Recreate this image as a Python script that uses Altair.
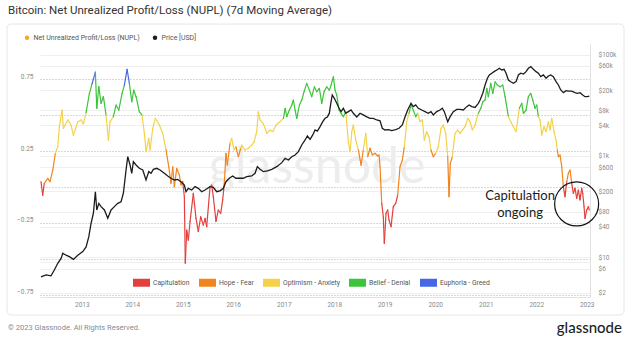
import altair as alt
import numpy as np
import pandas as pd

# ---------------- data ----------------
# NUPL (7d MA): dates as decimal years, values
nupl_years = [
    2012.194, 2012.228, 2012.259, 2012.327, 2012.372, 2012.426, 2012.477, 2012.525, 2012.556, 2012.610,
    2012.636, 2012.723, 2012.788, 2012.834, 2012.921, 2012.986, 2013.032, 2013.085, 2013.150, 2013.204,
    2013.269, 2013.297, 2013.337, 2013.382, 2013.428, 2013.481, 2013.527, 2013.560, 2013.626, 2013.679,
    2013.733, 2013.798, 2013.844, 2013.897, 2013.943, 2013.990, 2014.030, 2014.075, 2014.141, 2014.194,
    2014.240, 2014.273, 2014.327, 2014.352, 2014.406, 2014.457, 2014.537, 2014.604, 2014.669, 2014.723,
    2014.768, 2014.802, 2014.834, 2014.881, 2014.933, 2014.966, 2015.000, 2015.032, 2015.051, 2015.079,
    2015.111, 2015.145, 2015.210, 2015.263, 2015.309, 2015.356, 2015.408, 2015.442, 2015.475, 2015.541,
    2015.574, 2015.606, 2015.659, 2015.705, 2015.752, 2015.792, 2015.824, 2015.857, 2015.883, 2015.937,
    2015.970, 2016.016, 2016.055, 2016.101, 2016.149, 2016.168, 2016.234, 2016.299, 2016.366, 2016.412,
    2016.465, 2016.497, 2016.531, 2016.596, 2016.663, 2016.729, 2016.782, 2016.848, 2016.927, 2016.992,
    2017.026, 2017.059, 2017.111, 2017.158, 2017.190, 2017.224, 2017.257, 2017.309, 2017.356, 2017.402,
    2017.455, 2017.507, 2017.554, 2017.606, 2017.653, 2017.705, 2017.752, 2017.798, 2017.851, 2017.903,
    2017.937, 2017.982, 2018.016, 2018.050, 2018.095, 2018.135, 2018.180, 2018.228, 2018.279, 2018.313,
    2018.347, 2018.378, 2018.426, 2018.477, 2018.531, 2018.576, 2018.624, 2018.663, 2018.709, 2018.754,
    2018.808, 2018.861, 2018.887, 2018.907, 2018.941, 2018.972, 2018.992, 2019.026, 2019.059, 2019.085,
    2019.125, 2019.170, 2019.218, 2019.257, 2019.303, 2019.349, 2019.388, 2019.436, 2019.481, 2019.521,
    2019.566, 2019.614, 2019.653, 2019.699, 2019.745, 2019.784, 2019.832, 2019.877, 2019.917, 2019.962,
    2020.010, 2020.061, 2020.115, 2020.160, 2020.208, 2020.248, 2020.273, 2020.299, 2020.339, 2020.392,
    2020.446, 2020.491, 2020.537, 2020.590, 2020.644, 2020.689, 2020.735, 2020.788, 2020.822, 2020.853,
    2020.901, 2020.941, 2020.986, 2021.020, 2021.051, 2021.099, 2021.139, 2021.184, 2021.230, 2021.283,
    2021.337, 2021.382, 2021.448, 2021.495, 2021.547, 2021.600, 2021.665, 2021.713, 2021.745, 2021.798,
    2021.844, 2021.891, 2021.931, 2021.976, 2022.010, 2022.042, 2022.075, 2022.109, 2022.154, 2022.194,
    2022.240, 2022.273, 2022.307, 2022.352, 2022.392, 2022.418, 2022.438, 2022.471, 2022.505, 2022.537,
    2022.570, 2022.604, 2022.636, 2022.669, 2022.703, 2022.735, 2022.768, 2022.802, 2022.834, 2022.867,
    2022.901, 2022.921, 2022.947, 2022.966, 2023.000, 2023.032, 2023.051,
]
nupl_values = [
    0.037, -0.056, 0.026, 0.060, 0.037, 0.118, 0.235, 0.280, 0.420, 0.536,
    0.409, 0.467, 0.430, 0.360, 0.455, 0.467, 0.440, 0.520, 0.650, 0.720,
    0.800, 0.548, 0.700, 0.583, 0.629, 0.500, 0.327, 0.455, 0.490, 0.571,
    0.536, 0.652, 0.710, 0.820, 0.722, 0.594, 0.675, 0.629, 0.524, 0.500,
    0.374, 0.246, 0.339, 0.258, 0.409, 0.478, 0.432, 0.374, 0.258, 0.141,
    0.026, 0.141, 0.002, 0.130, 0.084, 0.014, 0.037, -0.067, -0.530, -0.300,
    -0.370, -0.240, -0.044, -0.218, -0.310, -0.207, -0.265, -0.218, -0.276, 0.002,
    0.014, -0.067, -0.240, -0.160, -0.183, -0.090, 0.026, 0.235, 0.153, 0.304,
    0.339, 0.258, 0.280, 0.211, 0.270, 0.292, 0.258, 0.270, 0.292, 0.315,
    0.385, 0.524, 0.467, 0.440, 0.374, 0.397, 0.385, 0.432, 0.455, 0.478,
    0.548, 0.490, 0.536, 0.571, 0.606, 0.536, 0.478, 0.571, 0.606, 0.664,
    0.722, 0.675, 0.629, 0.698, 0.664, 0.687, 0.583, 0.664, 0.698, 0.675,
    0.710, 0.768, 0.675, 0.640, 0.536, 0.513, 0.490, 0.524, 0.315, 0.246,
    0.385, 0.432, 0.327, 0.258, 0.153, 0.258, 0.374, 0.211, 0.270, 0.223,
    0.235, 0.216, 0.223, 0.141, -0.114, -0.207, -0.392, -0.183, -0.160, -0.230,
    -0.276, -0.137, -0.114, -0.056, 0.141, 0.188, 0.280, 0.455, 0.513, 0.571,
    0.536, 0.490, 0.513, 0.455, 0.467, 0.327, 0.385, 0.350, 0.258, 0.211,
    0.235, 0.280, 0.409, 0.432, 0.374, 0.211, -0.067, 0.165, 0.211, 0.374,
    0.397, 0.374, 0.397, 0.420, 0.478, 0.455, 0.397, 0.432, 0.478, 0.513,
    0.548, 0.594, 0.606, 0.687, 0.629, 0.722, 0.652, 0.733, 0.710, 0.698,
    0.710, 0.629, 0.490, 0.455, 0.420, 0.385, 0.548, 0.583, 0.513, 0.536,
    0.629, 0.652, 0.606, 0.548, 0.571, 0.490, 0.467, 0.362, 0.420, 0.385,
    0.455, 0.397, 0.478, 0.385, 0.327, 0.258, 0.211, 0.223, 0.141, 0.002,
    -0.067, 0.037, 0.095, 0.118, 0.026, -0.044, -0.009, -0.079, -0.021, -0.090,
    -0.009, -0.044, -0.137, -0.218, -0.160, -0.137, -0.160,
]

# BTC price (USD): dates as decimal years, values
price_years = [
    2012.194, 2012.293, 2012.392, 2012.457, 2012.525, 2012.590, 2012.624, 2012.689, 2012.754, 2012.834,
    2012.921, 2013.020, 2013.085, 2013.139, 2013.184, 2013.230, 2013.269, 2013.297, 2013.337, 2013.382,
    2013.448, 2013.515, 2013.580, 2013.646, 2013.713, 2013.778, 2013.824, 2013.877, 2013.911, 2013.956,
    2013.990, 2014.022, 2014.075, 2014.141, 2014.208, 2014.273, 2014.327, 2014.372, 2014.418, 2014.485,
    2014.550, 2014.636, 2014.703, 2014.768, 2014.834, 2014.901, 2014.966, 2015.032, 2015.065, 2015.111,
    2015.178, 2015.244, 2015.309, 2015.376, 2015.442, 2015.541, 2015.606, 2015.673, 2015.739, 2015.804,
    2015.857, 2015.923, 2015.990, 2016.055, 2016.135, 2016.200, 2016.267, 2016.366, 2016.432, 2016.477,
    2016.531, 2016.596, 2016.675, 2016.762, 2016.861, 2016.960, 2017.026, 2017.091, 2017.158, 2017.224,
    2017.289, 2017.356, 2017.422, 2017.467, 2017.521, 2017.574, 2017.620, 2017.665, 2017.719, 2017.772,
    2017.818, 2017.863, 2017.903, 2017.925, 2017.960, 2018.002, 2018.050, 2018.095, 2018.135, 2018.180,
    2018.228, 2018.279, 2018.333, 2018.378, 2018.446, 2018.511, 2018.576, 2018.644, 2018.709, 2018.774,
    2018.842, 2018.907, 2018.952, 2019.006, 2019.071, 2019.139, 2019.218, 2019.283, 2019.349, 2019.402,
    2019.455, 2019.521, 2019.566, 2019.614, 2019.665, 2019.733, 2019.798, 2019.863, 2019.917, 2019.962,
    2020.030, 2020.095, 2020.141, 2020.180, 2020.248, 2020.293, 2020.358, 2020.426, 2020.491, 2020.556,
    2020.624, 2020.669, 2020.723, 2020.788, 2020.853, 2020.887, 2020.941, 2020.986, 2021.032, 2021.071,
    2021.119, 2021.164, 2021.218, 2021.269, 2021.317, 2021.362, 2021.402, 2021.448, 2021.495, 2021.547,
    2021.600, 2021.646, 2021.693, 2021.745, 2021.798, 2021.844, 2021.891, 2021.943, 2021.996, 2022.042,
    2022.089, 2022.141, 2022.194, 2022.240, 2022.287, 2022.339, 2022.392, 2022.438, 2022.485, 2022.537,
    2022.590, 2022.636, 2022.703, 2022.768, 2022.814, 2022.867, 2022.921, 2022.966, 2023.012, 2023.051,
]
price_usd = [
    4.1, 4.5, 4.3, 5.6, 7.6, 9.5, 12, 11, 10.3, 9.1,
    11, 13, 16, 25.5, 47, 74, 197, 86, 116, 100,
    86, 59, 86, 100, 116, 125, 184, 530, 969, 664,
    455, 773, 664, 571, 530, 336, 490, 455, 545, 571,
    530, 455, 403, 363, 336, 345, 311, 267, 197, 230,
    213, 248, 230, 197, 213, 248, 240, 197, 205, 230,
    311, 363, 403, 363, 363, 363, 391, 403, 455, 616,
    545, 490, 510, 545, 616, 738, 900, 832, 969, 1047,
    1217, 1648, 2070, 2483, 2130, 2600, 3260, 3100, 3790, 4750,
    5540, 5900, 7000, 10000, 16000, 13760, 10970, 8740, 7500, 8740,
    6970, 7500, 8090, 6970, 5900, 6970, 6460, 5900, 5540, 5540,
    5140, 4950, 3525, 3260, 3320, 3160, 3320, 3525, 4100, 5900,
    8090, 10970, 9420, 10170, 8740, 8090, 7500, 6970, 7500, 6460,
    7500, 8090, 8740, 7500, 4750, 5900, 7500, 8300, 8300, 8090,
    9420, 10170, 9420, 9100, 10970, 12740, 17300, 25200, 34200, 39800,
    43000, 46200, 49900, 53800, 49900, 51500, 43000, 31600, 29300, 27200,
    29300, 39800, 43000, 41500, 46200, 53800, 58000, 51500, 46200, 43000,
    36800, 39800, 34200, 38000, 39800, 36800, 29300, 25200, 20100, 17800,
    19500, 19000, 19000, 17800, 17300, 17800, 16000, 14800, 14800, 15200,
]

zone_names = ["Capitulation", "Hope - Fear", "Optimism - Anxiety", "Belief - Denial", "Euphoria - Greed"]
zone_colors = ["#e2403f", "#f2841c", "#f3d24a", "#3cc43a", "#4768e6"]
zone_edges = [0.0, 0.25, 0.5, 0.75]

series_names = ["Net Unrealized Profit/Loss (NUPL)", "Price [USD]"]
series_colors = ["#f2a530", "#1c1c1c"]

year_ticks = list(range(2013, 2024))
nupl_ticks = [-0.75, -0.5, -0.25, 0.0, 0.25, 0.5, 0.75]
price_ticks = [2, 6, 8, 10, 40, 80, 200, 600, 1000, 4000, 8000, 20000, 60000, 100000]

x_range_years = [2012.174, 2023.065]
nupl_domain = [-0.766, 1.003]
price_domain = [1.644, 170000]

annot_text = ["Capitulation", "ongoing"]
annot_years = [2021.68, 2021.68]
annot_values = [-0.061, -0.183]
circle_years = [2022.80]
circle_values = [-0.118]
watermark_years = [2017.66]
watermark_values = [0.028]

title_text = "Bitcoin: Net Unrealized Profit/Loss (NUPL) (7d Moving Average)"
footer_text = "\u00a9 2023 Glassnode. All Rights Reserved."
logo_text = "glassnode"


# ---------------- helpers ----------------
def to_ts(y):
    yr = int(np.floor(y))
    a = pd.Timestamp(year=yr, month=1, day=1)
    b = pd.Timestamp(year=yr + 1, month=1, day=1)
    return (a + (b - a) * (y - yr)).round("h")


def to_dt(y):
    t = to_ts(y)
    return alt.DateTime(year=t.year, month=t.month, date=t.day, hours=t.hour)


nupl_dates = [to_ts(y) for y in nupl_years]
seg = pd.DataFrame({
    "t": nupl_dates[:-1], "t2": nupl_dates[1:],
    "v": nupl_values[:-1], "v2": nupl_values[1:],
})
mids = (seg["v"] + seg["v2"]) / 2
seg["seg_zone"] = [zone_names[int(np.searchsorted(zone_edges, m, side="right"))] for m in mids]

price_df = pd.DataFrame({"t": [to_ts(y) for y in price_years], "p": price_usd})
annot_df = pd.DataFrame({"t": [to_ts(y) for y in annot_years], "v": annot_values, "label": annot_text})
circle_df = pd.DataFrame({"t": [to_ts(y) for y in circle_years], "v": circle_values})
wm_df = pd.DataFrame({"t": [to_ts(y) for y in watermark_years], "v": watermark_values, "label": ["glassnode"]})
zone_df = pd.DataFrame({"zone": zone_names})
series_df = pd.DataFrame({"series": series_names})
one = pd.DataFrame({"label": [title_text]})
foot = pd.DataFrame({"label": [footer_text]})
logo = pd.DataFrame({"label": [logo_text]})

FONT = "Roboto"

xscale = alt.Scale(domain=[to_dt(x_range_years[0]), to_dt(x_range_years[1])])
x_axis = alt.Axis(
    values=[alt.DateTime(year=y, month=1, date=1) for y in year_ticks],
    format="%Y", grid=False, ticks=False, domain=True, domainColor="#e3e3e3",
    labelFontSize=6.5, labelColor="#8a8a8a", labelFont=FONT, labelPadding=4, title=None,
)
nupl_scale = alt.Scale(domain=nupl_domain, nice=False, zero=False)
nupl_axis = alt.Axis(
    orient="left", values=nupl_ticks,
    labelExpr="(abs(datum.value) == 0.25 || abs(datum.value) == 0.75) ? format(datum.value, '.2f') : ''",
    grid=True, gridDash=[1, 2], gridColor="#b0b0b0", gridWidth=1,
    domain=False, ticks=False, labelFontSize=6.5, labelColor="#8a8a8a", labelFont=FONT,
    labelPadding=7, labelOffset=-3, title=None,
)
price_scale = alt.Scale(type="log", domain=price_domain, nice=False)
price_axis = alt.Axis(
    orient="right", values=price_ticks,
    labelExpr="datum.value >= 1000 ? '$' + (datum.value / 1000) + 'k' : '$' + datum.value",
    grid=True, gridColor="#efefef", gridWidth=1,
    domain=True, domainColor="#e3e3e3", ticks=False,
    labelFontSize=6.5, labelColor="#8a8a8a", labelFont=FONT, labelPadding=8, title=None,
)

frame = alt.Chart(one).mark_rect(
    fillOpacity=0, stroke="#e6e6e6", strokeWidth=1, cornerRadius=4
).encode(x=alt.value(-33), x2=alt.value(584), y=alt.value(-19), y2=alt.value(272))

title = alt.Chart(one).mark_text(
    align="left", baseline="alphabetic", fontSize=11.5, color="#333333", font=FONT
).encode(x=alt.value(-32), y=alt.value(-29), text="label:N")

footer = alt.Chart(foot).mark_text(
    align="left", baseline="middle", fontSize=7.5, color="#8a8a8a", font=FONT
).encode(x=alt.value(-32), y=alt.value(285), text="label:N")

logo_mark = alt.Chart(logo).mark_text(
    align="right", baseline="alphabetic", fontSize=15, color="#1e1e1e", font="Lato", fontWeight=500
).encode(x=alt.value(582), y=alt.value(290), text="label:N")

watermark = alt.Chart(wm_df).mark_text(
    align="center", baseline="alphabetic", fontSize=50, color="#ededed", font="Lato"
).encode(
    x=alt.X("t:T", scale=xscale, axis=x_axis),
    y=alt.Y("v:Q", scale=nupl_scale, axis=None),
    text="label:N",
)

nupl_layer = alt.Chart(seg).mark_rule(strokeWidth=1.2, strokeCap="round").encode(
    x=alt.X("t:T", scale=xscale, axis=x_axis),
    x2="t2:T",
    y=alt.Y("v:Q", scale=nupl_scale, axis=nupl_axis),
    y2="v2:Q",
    stroke=alt.Stroke("seg_zone:N", scale=alt.Scale(domain=zone_names, range=zone_colors), legend=None),
)

price_layer = alt.Chart(price_df).mark_line(color="#1c1c1c", strokeWidth=1.3).encode(
    x=alt.X("t:T", scale=xscale, axis=x_axis),
    y=alt.Y("p:Q", scale=price_scale, axis=price_axis),
)

annot = alt.Chart(annot_df).mark_text(
    align="center", baseline="middle", fontSize=13, color="#1a1a1a", font="Lato"
).encode(
    x=alt.X("t:T", scale=xscale, axis=x_axis),
    y=alt.Y("v:Q", scale=nupl_scale, axis=None),
    text="label:N",
)

circle = alt.Chart(circle_df).mark_point(
    shape="circle", size=1936, filled=False, color="#111111", strokeWidth=1.2, opacity=1
).encode(
    x=alt.X("t:T", scale=xscale, axis=x_axis),
    y=alt.Y("v:Q", scale=nupl_scale, axis=None),
)

zone_legend = alt.Chart(zone_df).mark_point(filled=True, opacity=0).encode(
    color=alt.Color(
        "zone:N",
        scale=alt.Scale(domain=zone_names, range=zone_colors),
        legend=alt.Legend(
            orient="none", legendX=93, legendY=231, direction="horizontal", columns=5,
            symbolType="M-1,-0.47H1V0.47H-1Z", symbolSize=289, symbolStrokeWidth=0,
            symbolOpacity=1, labelFontSize=6.8, labelColor="#555555", labelFont=FONT,
            columnPadding=9, labelOffset=3, padding=0, title=None,
        ),
    )
)

series_legend = alt.Chart(series_df).mark_point(filled=True, opacity=0).encode(
    color=alt.Color(
        "series:N",
        scale=alt.Scale(domain=series_names, range=series_colors),
        legend=alt.Legend(
            orient="none", legendX=-16.5, legendY=-9, direction="horizontal", columns=2,
            symbolType="circle", symbolSize=20, symbolOpacity=1, symbolStrokeWidth=0,
            labelFontSize=7, labelColor="#555555", labelFont=FONT,
            columnPadding=11, labelOffset=3, padding=0, title=None,
        ),
    )
)

chart = alt.layer(
    frame, watermark, nupl_layer, price_layer, annot, circle,
    zone_legend, series_legend, title, footer, logo_mark,
).resolve_scale(y="independent", color="independent").properties(
    width=550, height=254,
    autosize=alt.AutoSizeParams(type="none"),
    padding={"left": 40, "top": 43, "right": 37, "bottom": 42},
    background="white",
).configure_view(stroke=None)

chart.save("out.html", embed_options={"renderer": "svg", "actions": False})
